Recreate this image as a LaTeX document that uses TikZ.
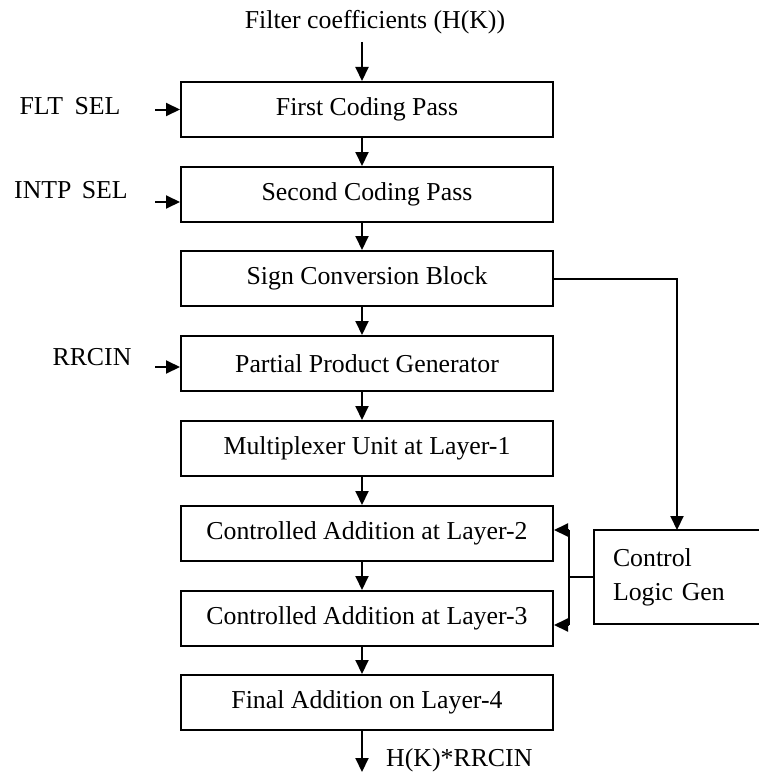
\documentclass[tikz,border=0pt]{standalone}
\usepackage{fontspec}
\setmainfont{Liberation Serif}
\usetikzlibrary{arrows.meta}
\begin{document}
\begin{tikzpicture}[x=1pt,y=-1pt,
  every node/.style={font=\fontsize{25.8}{34}\selectfont, inner sep=0pt},
  blk/.style={draw, line width=2pt, minimum width=372pt, minimum height=55pt},
  ln/.style={line width=2pt},
  arr/.style={line width=2pt, -{Triangle[length=14pt,width=13pt]}}]
\useasboundingbox (0,0) rectangle (758,776);
% main blocks
\node[blk] (b1) at (367,109.5) {First Coding Pass};
\node[blk] (b2) at (367,194.5) {Second Coding Pass};
\node[blk] (b3) at (367,278.5) {Sign Conversion Block};
\node[blk] (b4) at (367,363.5) {Partial Product Generator};
\node[blk] (b5) at (367,448.5) {Multiplexer Unit at Layer-1};
\node[blk] (b6) at (367,533.5) {Controlled Addition at Layer-2};
\node[blk] (b7) at (367,618.5) {Controlled Addition at Layer-3};
\node[blk] (b8) at (367,702.5) {Final Addition on Layer-4};
% control logic
\node[draw, line width=2pt, minimum width=168pt, minimum height=94pt,
      text width=130pt, align=left, inner xsep=19pt] (clg) at (678,577)
      {Control\\Logic Gen};
% labels
\node (top) at (375,22) {Filter coefficients (H(K))};
\node (flt) at (70,106) {FLT\hspace{0.45em}SEL};
\node (intp) at (71,190) {INTP\hspace{0.4em}SEL};
\node (rrc) at (92,357) {RRCIN};
\node[anchor=west] (out) at (386,760) {H(K)*RRCIN};
% coordinates
\coordinate (tin) at (362,42);
\coordinate (fin) at (155,109.5);
\coordinate (iin) at (155,202);
\coordinate (rin) at (155,367);
\coordinate (oend) at (362,772);
\coordinate (bt) at (569,530);
\coordinate (bb) at (569,625);
\coordinate (bm) at (569,577);
\coordinate (sc) at (677,530);
% connectors
\tikzset{dn/.style={xshift=-5pt}}
\draw[arr] (tin) -- ([dn]b1.north);
\draw[arr] ([dn]b1.south) -- ([dn]b2.north);
\draw[arr] ([dn]b2.south) -- ([dn]b3.north);
\draw[arr] ([dn]b3.south) -- ([dn]b4.north);
\draw[arr] ([dn]b4.south) -- ([dn]b5.north);
\draw[arr] ([dn]b5.south) -- ([dn]b6.north);
\draw[arr] ([dn]b6.south) -- ([dn]b7.north);
\draw[arr] ([dn]b7.south) -- ([dn]b8.north);
\draw[arr] ([dn]b8.south) -- (oend);
\draw[arr] (fin) -- (fin -| b1.west);
\draw[arr] (iin) -- (iin -| b2.west);
\draw[arr] (rin) -- (rin -| b4.west);
\draw[arr] (b3.east) -| (sc);
\draw[ln] (clg.west) -- (bm);
\draw[ln] (bt) -- (bb);
\draw[arr] (bt) -- (bt -| b6.east);
\draw[arr] (bb) -- (bb -| b7.east);
\end{tikzpicture}
\end{document}
